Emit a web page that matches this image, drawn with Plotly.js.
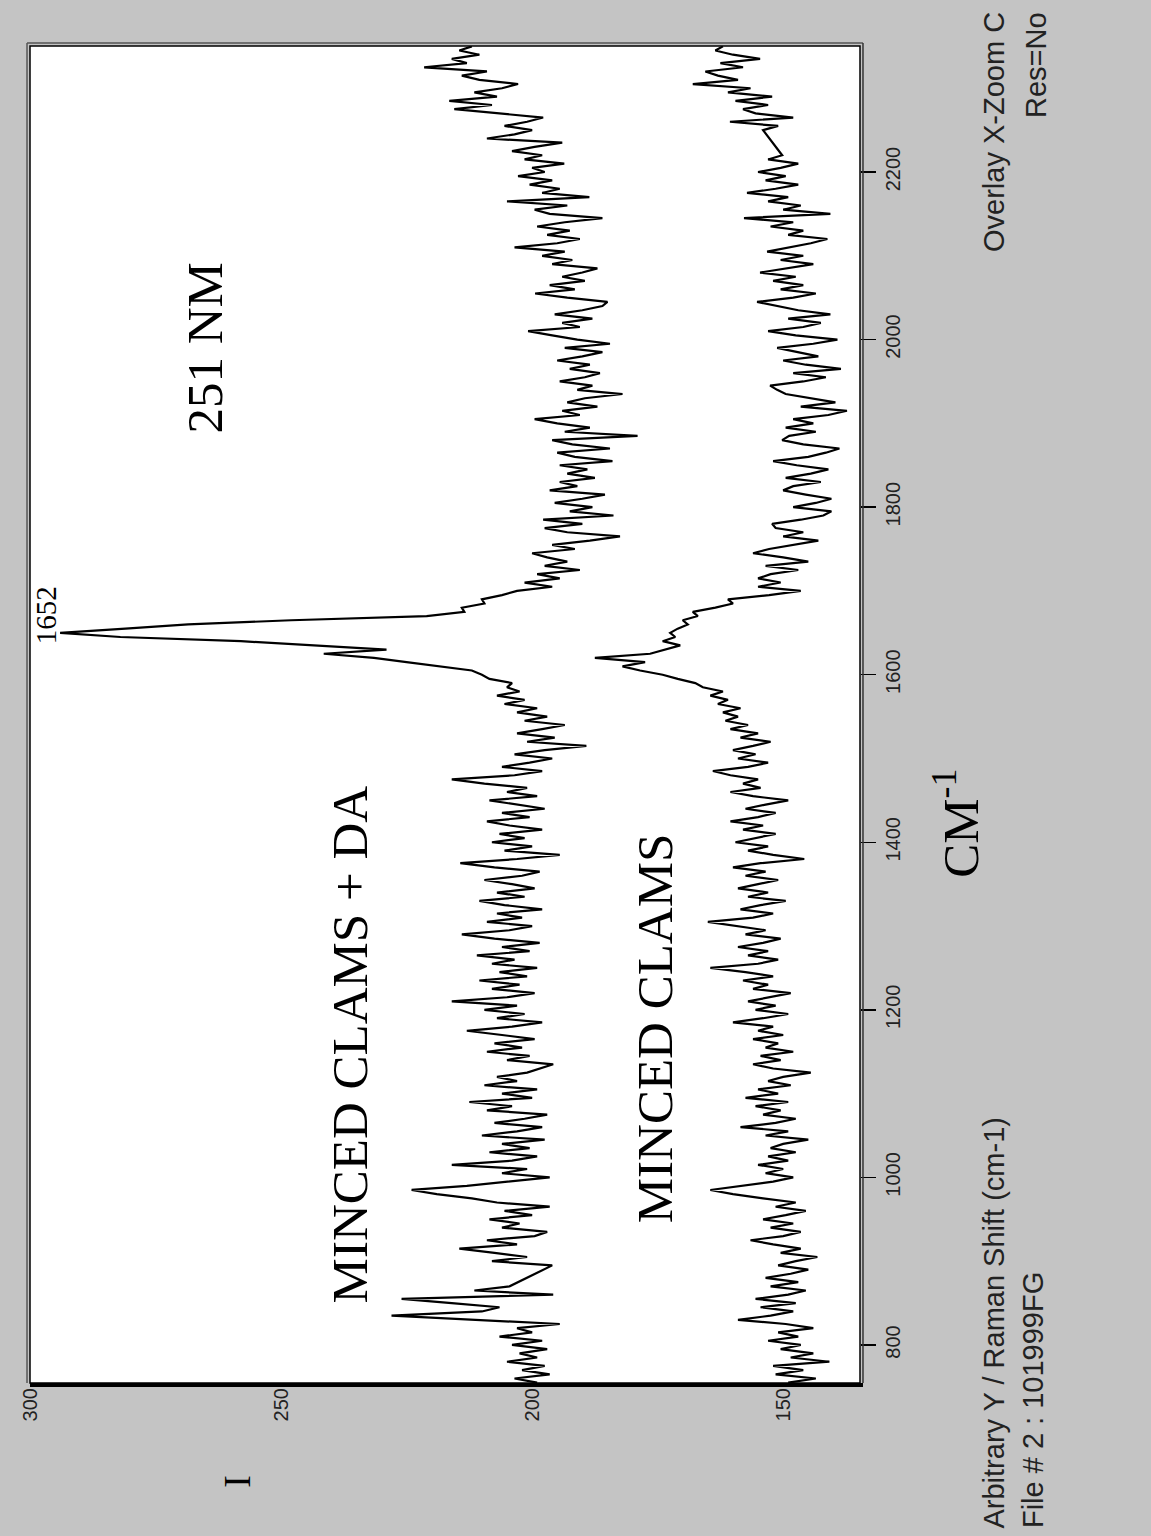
<!DOCTYPE html>
<html>
<head>
<meta charset="utf-8">
<script src="https://cdn.plot.ly/plotly-3.0.1.min.js"></script>
<style>
  html, body { margin: 0; padding: 0; background: #c4c4c4; }
  #chart { width: 1151px; height: 1536px; }
</style>
</head>
<body>
<div id="chart"></div>
<script>
// Raman shift (cm-1) sampling positions
const ramanShift = [
 755,760,765,770,775,780,785,790,795,800,805,810,815,820,825,830,835,840,845,850,
 855,860,865,870,875,880,885,890,895,900,905,910,915,920,925,930,935,940,945,950,
 955,960,965,970,975,980,985,990,995,1000,1005,1010,1015,1020,1025,1030,1035,1040,1045,1050,
 1055,1060,1065,1070,1075,1080,1085,1090,1095,1100,1105,1110,1115,1120,1125,1130,1135,1140,1145,1150,
 1155,1160,1165,1170,1175,1180,1185,1190,1195,1200,1205,1210,1215,1220,1225,1230,1235,1240,1245,1250,
 1255,1260,1265,1270,1275,1280,1285,1290,1295,1300,1305,1310,1315,1320,1325,1330,1335,1340,1345,1350,
 1355,1360,1365,1370,1375,1380,1385,1390,1395,1400,1405,1410,1415,1420,1425,1430,1435,1440,1445,1450,
 1455,1460,1465,1470,1475,1480,1485,1490,1495,1500,1505,1510,1515,1520,1525,1530,1535,1540,1545,1550,
 1555,1560,1565,1570,1575,1580,1585,1590,1595,1600,1605,1610,1615,1620,1625,1630,1635,1640,1645,1650,
 1655,1660,1665,1670,1675,1680,1685,1690,1695,1700,1705,1710,1715,1720,1725,1730,1735,1740,1745,1750,
 1755,1760,1765,1770,1775,1780,1785,1790,1795,1800,1805,1810,1815,1820,1825,1830,1835,1840,1845,1850,
 1855,1860,1865,1870,1875,1880,1885,1890,1895,1900,1905,1910,1915,1920,1925,1930,1935,1940,1945,1950,
 1955,1960,1965,1970,1975,1980,1985,1990,1995,2000,2005,2010,2015,2020,2025,2030,2035,2040,2045,2050,
 2055,2060,2065,2070,2075,2080,2085,2090,2095,2100,2105,2110,2115,2120,2125,2130,2135,2140,2145,2150,
 2155,2160,2165,2170,2175,2180,2185,2190,2195,2200,2205,2210,2215,2220,2225,2230,2235,2240,2245,2250,
 2255,2260,2265,2270,2275,2280,2285,2290,2295,2300,2305,2310,2315,2320,2325,2330,2335,2340,2345,2350
];

// Intensity, "MINCED CLAMS + DA"
const clamsDA = [
 199.0,203.5,196.5,202.0,197.5,205.0,199.0,202.5,197.0,204.0,198.0,206.5,200.0,203.0,194.5,210.0,228.0,210.0,206.5,216.0,
 226.0,195.8,211.5,204.5,null,null,null,null,196.0,208.0,201.0,207.5,214.5,203.0,209.0,199.5,197.0,206.0,202.5,208.5,
 200.0,205.5,196.5,207.0,212.0,219.0,224.0,213.0,205.0,196.5,206.0,201.0,216.0,204.0,199.0,208.5,200.5,206.0,197.5,210.0,
 203.0,198.0,207.5,201.5,197.0,209.0,204.0,212.5,200.0,206.0,199.0,209.5,203.0,207.0,201.0,198.5,195.8,205.0,200.5,209.0,
 202.0,207.5,199.5,206.0,213.0,204.0,198.0,207.0,201.5,209.5,203.0,216.0,205.0,199.5,208.0,202.5,210.5,201.0,206.5,199.0,
 208.0,203.5,211.0,200.5,206.0,198.5,207.5,214.0,204.5,200.0,209.0,202.0,207.0,198.0,205.5,210.5,201.5,207.0,199.5,204.0,
 209.5,202.0,198.5,207.5,214.3,203.0,194.5,205.5,200.0,208.0,201.5,206.5,198.0,204.5,209.0,200.5,206.0,197.5,203.0,208.5,
 199.0,205.0,201.0,209.5,216.0,203.5,198.0,206.0,200.5,196.0,203.5,197.5,189.2,201.0,195.5,203.0,198.0,193.5,201.5,197.0,
 203.0,199.0,205.5,201.5,207.0,202.5,205.0,204.0,208.5,210.0,212.0,219.0,225.0,231.5,241.5,229.0,243.0,258.0,282.0,294.0,
 281.0,268.5,248.0,221.0,213.5,214.0,209.5,210.0,206.0,203.0,196.0,201.5,194.5,199.0,190.5,197.5,193.0,197.0,200.0,191.5,
 196.0,188.5,182.5,193.0,197.5,190.0,197.8,183.8,192.5,188.0,195.5,190.0,185.5,196.5,191.0,194.5,187.5,193.0,189.0,194.5,
 184.0,191.5,195.0,184.5,192.0,196.0,179.0,193.5,188.5,195.0,199.5,190.5,194.0,187.0,193.0,189.5,182.0,191.0,188.0,194.5,
 189.5,186.5,192.5,188.5,195.0,190.0,186.0,193.5,184.5,191.0,196.0,200.8,190.5,194.0,188.0,195.5,190.0,186.0,185.0,193.0,
 199.4,191.5,196.5,189.5,194.0,190.0,187.0,196.0,192.0,198.0,193.5,203.5,195.0,190.5,197.0,192.5,199.0,193.5,186.0,196.5,
 199.5,193.0,205.0,188.6,198.0,194.5,200.5,196.0,202.8,197.5,200.0,193.6,201.5,198.0,204.0,199.5,194.0,209.0,203.5,200.0,
 205.5,201.0,197.8,206.5,215.5,208.0,216.5,207.0,211.5,206.0,202.8,210.5,214.0,209.0,221.5,213.0,216.0,210.5,214.5,212.0
];

// Intensity, "MINCED CLAMS"
const clams = [
 149.0,143.5,151.5,146.0,152.0,140.8,148.5,144.0,150.5,146.5,153.0,147.0,151.0,144.0,149.5,159.0,152.5,148.0,154.5,147.5,
 155.5,149.0,145.5,152.5,147.0,153.5,148.5,145.0,151.0,147.5,143.2,150.5,146.5,152.0,156.5,150.0,146.5,152.5,148.0,154.0,
 149.5,145.5,151.5,147.5,154.0,160.0,164.5,158.5,152.0,148.0,153.5,150.0,155.0,149.0,153.0,147.5,152.5,150.0,145.0,153.5,
 149.0,158.5,151.5,147.5,154.0,150.5,155.5,149.0,157.5,151.0,155.0,148.5,153.0,150.0,144.5,152.0,156.0,150.5,154.5,148.0,
 153.5,151.0,156.0,150.0,155.0,152.0,160.0,154.0,149.0,155.5,151.5,157.0,152.5,148.5,156.0,153.0,158.0,152.0,157.5,164.5,
 155.0,151.0,157.0,153.0,159.0,154.0,150.5,157.5,153.5,159.5,165.0,156.0,152.0,158.5,154.5,149.5,157.0,153.0,159.0,155.0,
 151.0,157.5,153.5,160.0,154.5,145.8,152.0,157.0,153.0,159.5,155.5,151.5,158.0,154.0,160.5,155.0,151.5,157.5,153.5,149.0,
 156.0,160.5,154.5,158.0,155.0,160.5,164.0,157.0,153.0,159.0,155.5,160.0,156.0,152.5,158.5,155.0,160.5,157.0,161.5,159.0,
 162.0,158.5,163.0,161.0,164.5,162.0,166.0,167.5,171.0,174.0,178.5,182.0,177.5,187.5,176.5,173.5,170.5,174.0,171.5,172.5,
 171.0,169.0,170.0,167.0,168.0,163.5,160.0,161.0,152.8,146.5,155.0,150.5,155.0,152.5,147.0,153.5,145.0,150.0,156.0,152.8,
 147.5,143.0,150.0,146.0,151.5,152.2,146.5,142.0,140.4,148.0,143.5,140.4,145.5,150.0,148.0,142.5,149.5,144.5,141.0,147.3,
 152.0,145.0,141.5,138.8,146.0,150.2,148.8,143.5,149.5,144.0,148.0,141.0,137.3,146.5,139.6,145.0,149.5,151.2,152.6,146.0,
 141.5,148.0,138.5,145.5,150.0,143.0,147.5,151.2,144.0,139.2,147.5,153.0,146.0,142.5,149.0,140.6,147.0,151.5,155.2,148.0,
 143.5,150.5,146.0,152.0,147.5,154.6,149.0,144.0,150.5,146.0,153.2,148.5,144.5,141.2,149.0,146.0,152.5,148.0,157.8,140.6,
 150.0,146.5,153.0,149.0,157.2,151.5,147.0,153.5,149.5,155.0,150.5,147.0,153.0,150.2,null,null,null,null,null,154.0,
 151.0,160.6,148.0,155.5,158.0,153.0,159.5,152.2,161.0,156.5,168.0,159.0,163.0,165.5,158.0,162.5,154.6,160.0,163.5,162.0
];

const intensityTicks = [300, 250, 200, 150];
const shiftTicks = [800, 1000, 1200, 1400, 1600, 1800, 2000, 2200];

const lineStyle = { color: '#000000', width: 2.2 };
const traces = [
  { type: 'scatter', mode: 'lines', name: 'MINCED CLAMS + DA', x: clamsDA, y: ramanShift, line: lineStyle, connectgaps: true },
  { type: 'scatter', mode: 'lines', name: 'MINCED CLAMS', x: clams, y: ramanShift, line: lineStyle, connectgaps: true }
];

const serif = 'Liberation Serif, Times New Roman, serif';
const sans = 'Liberation Sans, Arial, sans-serif';

function ann(text, x, y, size, family, xa, ya, color) {
  return { text: text, x: x, y: y, xref: 'paper', yref: 'paper', showarrow: false,
           textangle: -90, xanchor: xa || 'center', yanchor: ya || 'bottom',
           font: { family: family, size: size, color: color || '#000' } };
}

const layout = {
  width: 1151, height: 1536,
  margin: { l: 30, r: 291, t: 46, b: 153 },
  paper_bgcolor: '#c4c4c4',
  plot_bgcolor: '#ffffff',
  showlegend: false,
  xaxis: {
    range: [300, 134.7], tickvals: intensityTicks, ticktext: intensityTicks.map(String),
    tickangle: -90, ticks: '', showgrid: false, zeroline: false, showline: false,
    tickfont: { family: sans, size: 20, color: '#222' }
  },
  yaxis: {
    range: [754.6, 2350.4], side: 'right', tickvals: shiftTicks, ticktext: shiftTicks.map(String),
    tickangle: -90, ticks: 'outside', ticklen: 15, tickwidth: 1.5, tickcolor: '#000',
    showgrid: false, zeroline: false, showline: false,
    tickfont: { family: sans, size: 20, color: '#222' }
  },
  shapes: [
    { type: 'rect', xref: 'paper', yref: 'paper', x0: 0, x1: 1, y0: 0, y1: 1, line: { color: '#000', width: 1.5 } },
    { type: 'line', xref: 'paper', yref: 'paper', x0: -0.0036, x1: -0.0036, y0: 0, y1: 1.0022, line: { color: '#555', width: 1.5 } },
    { type: 'line', xref: 'paper', yref: 'paper', x0: -0.0036, x1: 1.0036, y0: 1.0022, y1: 1.0022, line: { color: '#555', width: 1.5 } },
    { type: 'line', xref: 'paper', yref: 'paper', x0: 1.0036, x1: 1.0036, y0: 0, y1: 1.0022, line: { color: '#333', width: 1.5 } },
    { type: 'line', xref: 'paper', yref: 'paper', x0: 0, x1: 1.0036, y0: -0.0015, y1: -0.0015, line: { color: '#000', width: 4 } }
  ],
  annotations: [
    ann('MINCED CLAMS + DA', 0.3855, 0.058, 51, serif),
    ann('MINCED CLAMS', 0.753, 0.118, 51, serif),
    ann('251 NM', 0.2108, 0.709, 51, serif),
    ann('1652', 0.0193, 0.551, 29, serif),
    ann('CM<sup>-1</sup>', 1.1157, 0.376, 51, serif),
    ann('I', 0.249, -0.0733, 38, serif, 'center', 'middle'),
    ann('Arbitrary Y / Raman Shift (cm-1)', 1.1614, -0.11, 29, sans, 'center', 'bottom', '#222'),
    ann('File # 2 : 101999FG', 1.2084, -0.11, 29, sans, 'center', 'bottom', '#222'),
    ann('Overlay X-Zoom C', 1.1614, 1.0269, 29, sans, 'center', 'top', '#222'),
    ann('Res=No', 1.212, 1.0269, 29, sans, 'center', 'top', '#222')
  ]
};

Plotly.newPlot('chart', traces, layout, { displayModeBar: false, staticPlot: true });
</script>
</body>
</html>
